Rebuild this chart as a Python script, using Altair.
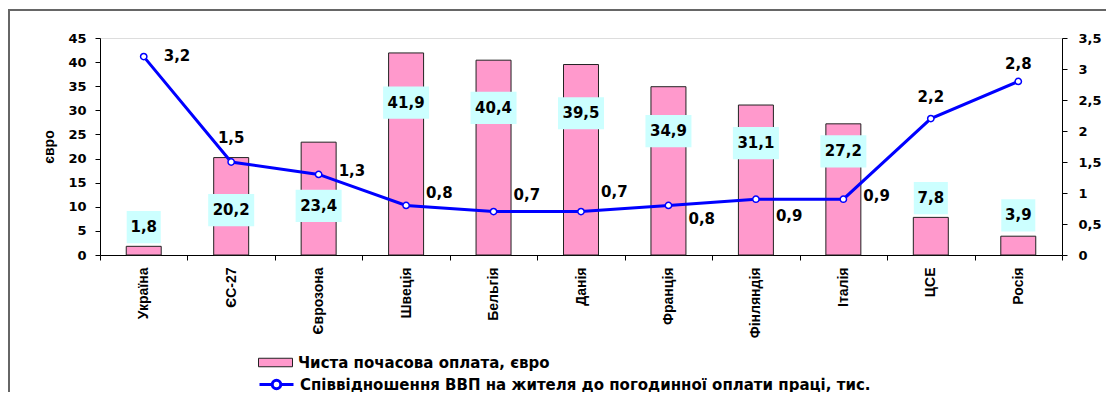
import altair as alt
import pandas as pd

categories = ['Україна', 'ЄС-27', 'Єврозона', 'Швеція', 'Бельгія', 'Данія',
              'Франція', 'Фінляндія', 'Італія', 'ЦСЕ', 'Росія']
wage = [1.8, 20.2, 23.4, 41.9, 40.4, 39.5, 34.9, 31.1, 27.2, 7.8, 3.9]
ratio = [3.2, 1.5, 1.3, 0.8, 0.7, 0.7, 0.8, 0.9, 0.9, 2.2, 2.8]
# where the data labels sit (in each axis' own units)
wage_label_y = [5.8, 9.3, 10.2, 31.6, 30.5, 29.4, 25.7, 23.2, 21.5, 11.8, 8.2]
ratio_label_y = [3.21, 1.89, 1.35, 1.0, 0.97, 1.01, 0.58, 0.63, 0.95, 2.55, 3.08]
ratio_label_side = ['r', 'a', 'r', 'r', 'r', 'r', 'r', 'r', 'r', 'a', 'a']

BAR_NAME = 'Чиста почасова оплата, євро'
LINE_NAME = 'Співвідношення ВВП на жителя до погодинної оплати праці, тис.'
Y_TITLE = 'євро'

df = pd.DataFrame({
    'cat': categories,
    'wage': wage,
    'ratio': ratio,
    'wy': wage_label_y,
    'ry': ratio_label_y,
    'side': ratio_label_side,
})
df['s1'] = BAR_NAME
df['s2'] = LINE_NAME

NUM_FONT = 'DejaVu Sans'
TXT_FONT = 'Liberation Sans'

x_enc = alt.X('cat:N', sort=categories,
              scale=alt.Scale(paddingInner=0, paddingOuter=0),
              axis=alt.Axis(title=None, labelAngle=270, tickBand='extent',
                            labelFont=TXT_FONT, labelFontWeight='bold',
                            labelFontSize=14, labelPadding=7, tickSize=5,
                            labelColor='black', domainColor='black',
                            tickColor='black', labelAlign='right',
                            labelBaseline='middle'))

left_axis = alt.Axis(title=Y_TITLE, titleFont=TXT_FONT, titleFontWeight='bold',
                     titleFontSize=14, titleColor='black', titlePadding=11,
                     labelFont=NUM_FONT, labelFontWeight='bold', labelFontSize=13,
                     labelColor='black', values=list(range(0, 46, 5)),
                     tickSize=5, labelPadding=9, grid=False,
                     domainColor='black', tickColor='black')
left_scale = alt.Scale(domain=[0, 45], nice=False)

right_axis = alt.Axis(title=None, orient='right',
                      labelFont=NUM_FONT, labelFontWeight='bold', labelFontSize=13,
                      labelColor='black',
                      values=[0, 0.5, 1, 1.5, 2, 2.5, 3, 3.5],
                      labelExpr="replace(format(datum.value, '~g'), '.', ',')",
                      tickSize=5, labelPadding=11, grid=False,
                      domainColor='black', tickColor='black')
right_scale = alt.Scale(domain=[0, 3.5], nice=False)

base = alt.Chart(df).transform_calculate(
    wtxt="replace(format(datum.wage, '.1f'), '.', ',')",
    rtxt="replace(format(datum.ratio, '.1f'), '.', ',')",
    nch="'n' + length(replace(format(datum.wage, '.1f'), '.', ','))",
)

rect_path = 'M-1,-0.25H1V0.25H-1Z'
line_path = ('M-1,0H-0.25M0.25,0H1M0.25,0A0.25,0.25,0,1,1,-0.25,0'
             'A0.25,0.25,0,1,1,0.25,0Z')

bars = base.mark_bar(width=alt.RelativeBandSize(0.4), stroke='#222',
                     strokeWidth=1).encode(
    x=x_enc,
    y=alt.Y('wage:Q', scale=left_scale, axis=left_axis, title=Y_TITLE),
    color=alt.Color('s1:N', scale=alt.Scale(domain=[BAR_NAME], range=['#FF99CC']),
                    legend=alt.Legend(orient='none', legendX=158, legendY=307,
                                      title=None, symbolType=rect_path,
                                      symbolSize=1156, symbolStrokeColor='#222',
                                      symbolStrokeWidth=1, symbolFillColor='#FF99CC',
                                      labelFont=NUM_FONT, labelFontWeight='bold',
                                      labelFontSize=15, labelColor='black',
                                      labelOffset=5, padding=0, labelLimit=2000)),
)

box_small = 'M-0.74,-0.7H0.74V0.7H-0.74Z'
box_big = 'M-1,-0.7H1V0.7H-1Z'
boxes = base.mark_point(filled=True, fill='#CCFFFF', opacity=1, strokeWidth=0,
                        size=2116).encode(
    x=x_enc,
    y=alt.Y('wy:Q', scale=left_scale, axis=left_axis, title=Y_TITLE),
    shape=alt.Shape('nch:N', scale=alt.Scale(domain=['n3', 'n4'],
                                             range=[box_small, box_big]),
                    legend=None),
)
btxt = base.mark_text(font=NUM_FONT, fontWeight='bold', fontSize=15,
                      color='black', baseline='middle').encode(
    x=x_enc,
    y=alt.Y('wy:Q', scale=left_scale, axis=left_axis, title=Y_TITLE),
    text='wtxt:N',
)

left = alt.layer(bars, boxes, btxt)

line = base.mark_line(strokeWidth=3).encode(
    x=x_enc,
    y=alt.Y('ratio:Q', scale=right_scale, axis=right_axis),
    stroke=alt.Stroke('s2:N', scale=alt.Scale(domain=[LINE_NAME], range=['#0000FF']),
                      legend=alt.Legend(orient='none', legendX=158, legendY=328,
                                        title=None, symbolType=line_path,
                                        symbolSize=1156, symbolStrokeWidth=3,
                                        symbolFillColor='white',
                                        labelFont=NUM_FONT, labelFontWeight='bold',
                                        labelFontSize=15, labelColor='black',
                                        labelOffset=5, padding=0, labelLimit=2000)),
)
pts = base.mark_point(filled=True, fill='white', stroke='#0000FF',
                      strokeWidth=1.5, size=40, opacity=1).encode(
    x=x_enc,
    y=alt.Y('ratio:Q', scale=right_scale, axis=right_axis),
)
ltxt_r = base.transform_filter("datum.side == 'r'").mark_text(
    font=NUM_FONT, fontWeight='bold', fontSize=15, color='black',
    align='left', baseline='middle', dx=20).encode(
    x=x_enc,
    y=alt.Y('ry:Q', scale=right_scale, axis=right_axis),
    text='rtxt:N',
)
ltxt_a = base.transform_filter("datum.side == 'a'").mark_text(
    font=NUM_FONT, fontWeight='bold', fontSize=15, color='black',
    align='center', baseline='middle', dx=0).encode(
    x=x_enc,
    y=alt.Y('ry:Q', scale=right_scale, axis=right_axis),
    text='rtxt:N',
)

right = alt.layer(line, pts, ltxt_r, ltxt_a)

frame_data = alt.Data(values=[{'k': 1}])
frame_v = alt.Chart(frame_data).mark_rule(color='#666', strokeWidth=2).encode(
    x=alt.value(-91), y=alt.value(-28), y2=alt.value(420))
frame_h = alt.Chart(frame_data).mark_rule(color='#666', strokeWidth=2).encode(
    x=alt.value(-92), x2=alt.value(1100), y=alt.value(-28))

chart = alt.layer(left, right, frame_v, frame_h).resolve_scale(
    y='independent', color='independent', stroke='independent'
).properties(
    width=962, height=217,
    padding={'left': 92, 'top': 30, 'right': 44, 'bottom': 137},
    autosize='none',
).configure_view(stroke=None).configure(background='white')

chart.save('out.html', embed_options={'renderer': 'svg', 'actions': False})
